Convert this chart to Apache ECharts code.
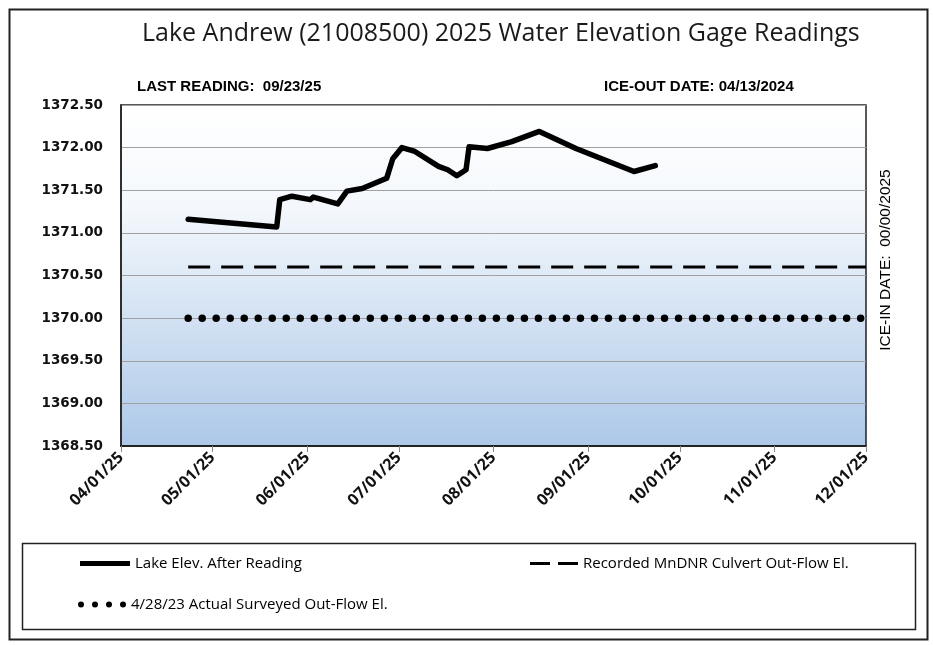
<!DOCTYPE html>
<html>
<head>
<meta charset="utf-8">
<script src="https://cdn.jsdelivr.net/npm/echarts@6/dist/echarts.min.js"></script>
<style>
html,body{margin:0;padding:0;background:#fff;}
#chart{width:933px;height:645px;}
</style>
</head>
<body>
<div id="chart"></div>
<script>
// ---- Data ----
const readingDates = ['2025-04-23','2025-05-22','2025-05-23','2025-05-27','2025-06-02','2025-06-03','2025-06-11','2025-06-14','2025-06-19','2025-06-27','2025-06-29','2025-07-02','2025-07-06','2025-07-14','2025-07-17','2025-07-20','2025-07-23','2025-07-24','2025-07-30','2025-08-07','2025-08-16','2025-08-28','2025-09-16','2025-09-23'];
const lakeElev = [1371.16,1371.07,1371.39,1371.43,1371.39,1371.42,1371.34,1371.49,1371.52,1371.64,1371.87,1372.00,1371.96,1371.78,1371.74,1371.67,1371.74,1372.01,1371.99,1372.07,1372.19,1371.99,1371.72,1371.79];
const refDates = ['2025-04-23','2025-12-01'];
const culvertElev = [1370.60,1370.60];
const surveyedElev = [1370.00,1370.00];
const seriesNames = ['Lake Elev. After Reading','Recorded MnDNR Culvert Out-Flow El.','4/28/23 Actual Surveyed Out-Flow El.'];
const titleText = 'Lake Andrew (21008500) 2025 Water Elevation Gage Readings';
const lastReadingText = 'LAST READING:  09/23/25';
const iceOutText = 'ICE-OUT DATE: 04/13/2024';
const iceInText = 'ICE-IN DATE:  00/00/2025';
const xMin = '2025-04-01', xMax = '2025-12-01';
const yMin = 1368.5, yMax = 1372.5, yStep = 0.5;

const pair = (ds, vs) => ds.map((d,i) => [d, vs[i]]);
const pad = n => (n<10?'0':'')+n;

const chart = echarts.init(document.getElementById('chart'));
const sans = '"Liberation Sans", Arial, sans-serif';
const calib = '"Open Sans", "Liberation Sans", sans-serif';
const dotPath = 'path://' + [0,14,28,42].map(x => `M${x},3a3,3 0 1,0 6,0a3,3 0 1,0 -6,0Z`).join(' ');
const dashPath = 'path://M0,0H20V3H0Z M28,0H48V3H28Z';
const legendText = {fontFamily: calib, fontSize: 15, color: '#000'};

chart.setOption({
  animation: false,
  backgroundColor: '#fff',
  title: [
    {text: titleText, left: 137, top: 16, textStyle: {fontFamily: calib, fontSize: 25, fontWeight: 'normal', color: '#1a1a1a'}},
    {text: lastReadingText, left: 132, top: 74, textStyle: {fontFamily: sans, fontSize: 15, fontWeight: 'bold', color: '#000'}},
    {text: iceOutText, left: 599, top: 74, textStyle: {fontFamily: sans, fontSize: 15, fontWeight: 'bold', color: '#000'}}
  ],
  graphic: [
    {type: 'rect', left: 7, top: 7, shape: {width: 918, height: 630}, style: {fill: 'none', stroke: '#222', lineWidth: 2}, silent: true, z: -1},
    {type: 'rect', left: 20, top: 541, shape: {width: 893, height: 86}, style: {fill: 'none', stroke: '#222', lineWidth: 1.5}, silent: true},
    {type: 'text', x: 886, y: 260, rotation: Math.PI/2, style: {text: iceInText, fill: '#000', font: '15.5px "Liberation Sans", Arial, sans-serif', textAlign: 'center', textVerticalAlign: 'middle'}}
  ],
  legend: [
    {data: [{name: seriesNames[0], icon: 'rect'}], left: 80, top: 556, padding: 0, itemWidth: 50, itemHeight: 5, textStyle: legendText},
    {data: [{name: seriesNames[1], icon: dashPath}], left: 530, top: 556, padding: 0, itemWidth: 48, itemHeight: 3, textStyle: legendText},
    {data: [{name: seriesNames[2], icon: dotPath}], left: 78, top: 597, padding: 0, itemWidth: 48, itemHeight: 6, textStyle: legendText}
  ],
  grid: {left: 121, top: 105, right: 67, bottom: 199, show: true, borderColor: '#222', borderWidth: 1.5,
    backgroundColor: new echarts.graphic.LinearGradient(0,0,0,1,[{offset:0,color:'#ffffff'},{offset:0.3,color:'#f4f8fc'},{offset:1,color:'#acc8e8'}])},
  xAxis: {
    type: 'time', min: xMin, max: xMax, splitNumber: 8,
    minInterval: 28*86400000, maxInterval: 31*86400000,
    axisLine: {lineStyle: {color: '#222', width: 2}},
    axisTick: {show: true, length: 6, lineStyle: {color: '#888'}},
    splitLine: {show: false},
    axisLabel: {rotate: 45, margin: 9, fontFamily: calib, fontSize: 16, fontWeight: 'bold', color: '#111',
      showMinLabel: true, showMaxLabel: true, hideOverlap: false,
      formatter: v => { const d = new Date(v); return pad(d.getMonth()+1)+'/'+pad(d.getDate())+'/'+String(d.getFullYear()).slice(2); }}
  },
  yAxis: {
    type: 'value', min: yMin, max: yMax, interval: yStep,
    axisLine: {show: true, lineStyle: {color: '#222', width: 1.5}},
    axisTick: {show: false},
    splitLine: {lineStyle: {color: '#a0a0a0', width: 1}},
    axisLabel: {margin: 18, fontFamily: '"DejaVu Sans", Verdana, sans-serif', fontSize: 13.5, fontWeight: 'bold', color: '#111',
      formatter: v => v.toFixed(2)}
  },
  series: [
    {name: seriesNames[0], type: 'line', data: pair(readingDates, lakeElev), symbol: 'none', z: 5,
      lineStyle: {color: '#000', width: 5.5, cap: 'round', join: 'round'}, itemStyle: {color: '#000'}},
    {name: seriesNames[1], type: 'line', data: pair(refDates, culvertElev), symbol: 'none',
      lineStyle: {color: '#000', width: 3, type: [22, 11]}, itemStyle: {color: '#000'}},
    {name: seriesNames[2], type: 'line', data: pair(refDates, surveyedElev), symbol: 'none',
      lineStyle: {color: '#000', width: 7.5, type: [0.01, 14], cap: 'round'}, itemStyle: {color: '#000'}}
  ]
});
</script>
</body>
</html>
